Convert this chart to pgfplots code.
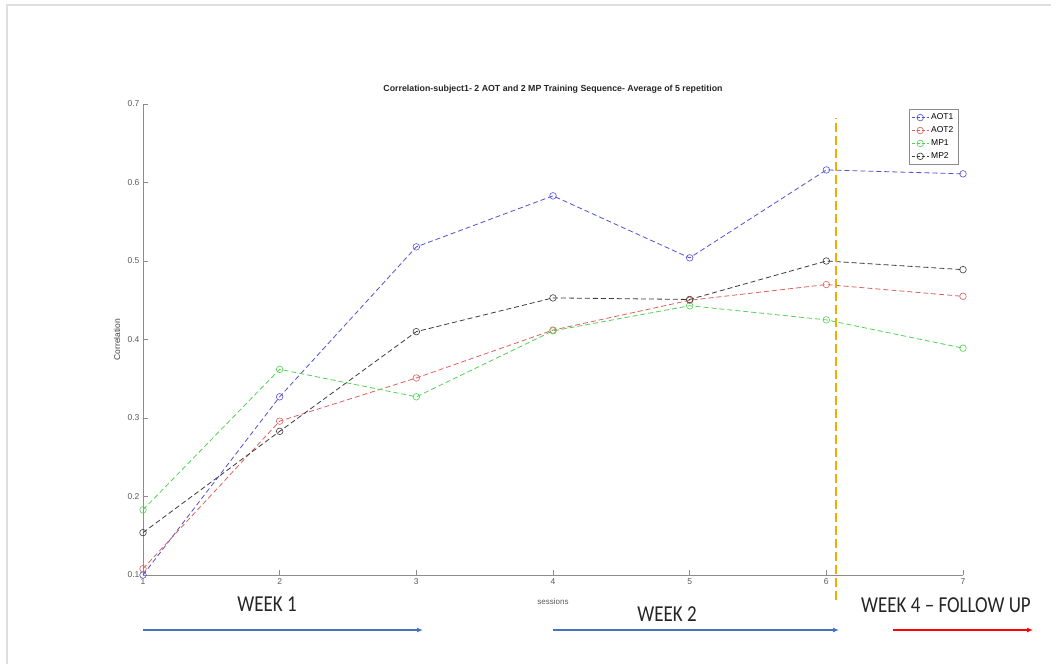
\documentclass[border=0pt]{standalone}
\usepackage{fontspec}
\setmainfont{Liberation Sans}
\newfontfamily\calibri{Carlito}
\usepackage{graphicx}
\usepackage{pgfplots}
\usetikzlibrary{arrows.meta}
\pgfplotsset{compat=1.18}
\definecolor{cblue}{RGB}{80,80,215}
\definecolor{cred}{RGB}{220,95,95}
\definecolor{cgreen}{RGB}{80,210,80}
\definecolor{cblack}{RGB}{60,60,60}
\definecolor{cyell}{RGB}{240,175,0}
\definecolor{arrblue}{RGB}{68,114,196}
\definecolor{axgray}{RGB}{140,140,140}
\begin{document}
\begin{tikzpicture}[x=1pt,y=1pt]
\useasboundingbox (0,0) rectangle (1051,664);
\draw[gray!25, line width=2pt] (6.5,0) -- (6.5,658.5) -- (1051,658.5);
\begin{axis}[
  at={(143pt,89pt)}, anchor=south west,
  scale only axis, width=820pt, height=471pt,
  xmin=1, xmax=7, ymin=0.1, ymax=0.7,
  xtick={1,...,7}, ytick={0.1,0.2,...,0.7},
  axis x line*=bottom, axis y line*=left,
  axis line style={axgray, line width=0.8pt, -},
  tick style={axgray, line width=0.6pt},
  tick align=inside, major tick length=5pt,
  clip=false,
  /pgf/number format/assume math mode=true,
  yticklabel style={/pgf/number format/fixed, /pgf/number format/precision=1, /pgf/number format/fixed zerofill},
  ticklabel style={font=\fontsize{8.5}{10}\selectfont, text=black!65},
  xlabel={sessions}, ylabel={Correlation},
  xlabel style={at={(axis description cs:0.5,-0.057)}, anchor=center, font=\fontsize{8}{9}\selectfont, text=black!65},
  ylabel style={at={(axis description cs:-0.0317,0.5)}, anchor=center, font=\fontsize{8.5}{9}\selectfont, text=black!75},
  title={Correlation-subject1- 2 AOT and 2 MP Training Sequence- Average of 5 repetition},
  title style={at={(axis description cs:0.5,1)}, yshift=9pt, anchor=center, font=\bfseries\fontsize{8.8}{10}\selectfont, text=black!85},
  legend style={at={(rel axis cs:0.994,0.989)}, anchor=north east, draw=axgray, font=\fontsize{8.5}{10}\selectfont, inner sep=2.5pt, row sep=1.5pt, cells={anchor=west}},
  legend image post style={dash pattern=on 3pt off 2pt},
  every axis plot/.append style={line width=0.8pt, dash pattern=on 5pt off 3pt, mark=o, mark size=3.3pt, mark options={solid, line width=0.6pt}},
]
\addplot[cblue] coordinates {(1,0.100) (2,0.327) (3,0.518) (4,0.583) (5,0.504) (6,0.616) (7,0.611)};
\addlegendentry{AOT1}
\addplot[cred] coordinates {(1,0.108) (2,0.296) (3,0.351) (4,0.412) (5,0.450) (6,0.470) (7,0.455)};
\addlegendentry{AOT2}
\addplot[cgreen] coordinates {(1,0.183) (2,0.362) (3,0.327) (4,0.411) (5,0.443) (6,0.425) (7,0.389)};
\addlegendentry{MP1}
\addplot[cblack] coordinates {(1,0.154) (2,0.283) (3,0.410) (4,0.453) (5,0.451) (6,0.500) (7,0.489)};
\addlegendentry{MP2}
\addplot[color=cyell, line width=1.2pt, dash pattern=on 9pt off 4pt, mark=none, forget plot] coordinates {(6.07,0.068) (6.07,0.682)};
\end{axis}
\draw[arrblue, line width=1.3pt, -{Latex[length=6pt,width=5pt]}] (143,34) -- (423,34);
\draw[arrblue, line width=1.3pt, -{Latex[length=6pt,width=5pt]}] (553,34) -- (839,34);
\draw[red, line width=1.3pt, -{Latex[length=6pt,width=5pt]}] (893,34) -- (1033,34);
\node[text=black!85, inner sep=0] at (267,59.5) {\scalebox{1}[1.2]{\calibri\fontsize{19}{22}\selectfont WEEK 1}};
\node[text=black!85, inner sep=0] at (667,50) {\scalebox{1}[1.2]{\calibri\fontsize{19}{22}\selectfont WEEK 2}};
\node[text=black!85, inner sep=0] at (946,59) {\scalebox{1}[1.2]{\calibri\fontsize{19}{22}\selectfont WEEK 4 – FOLLOW UP}};
\end{tikzpicture}
\end{document}
